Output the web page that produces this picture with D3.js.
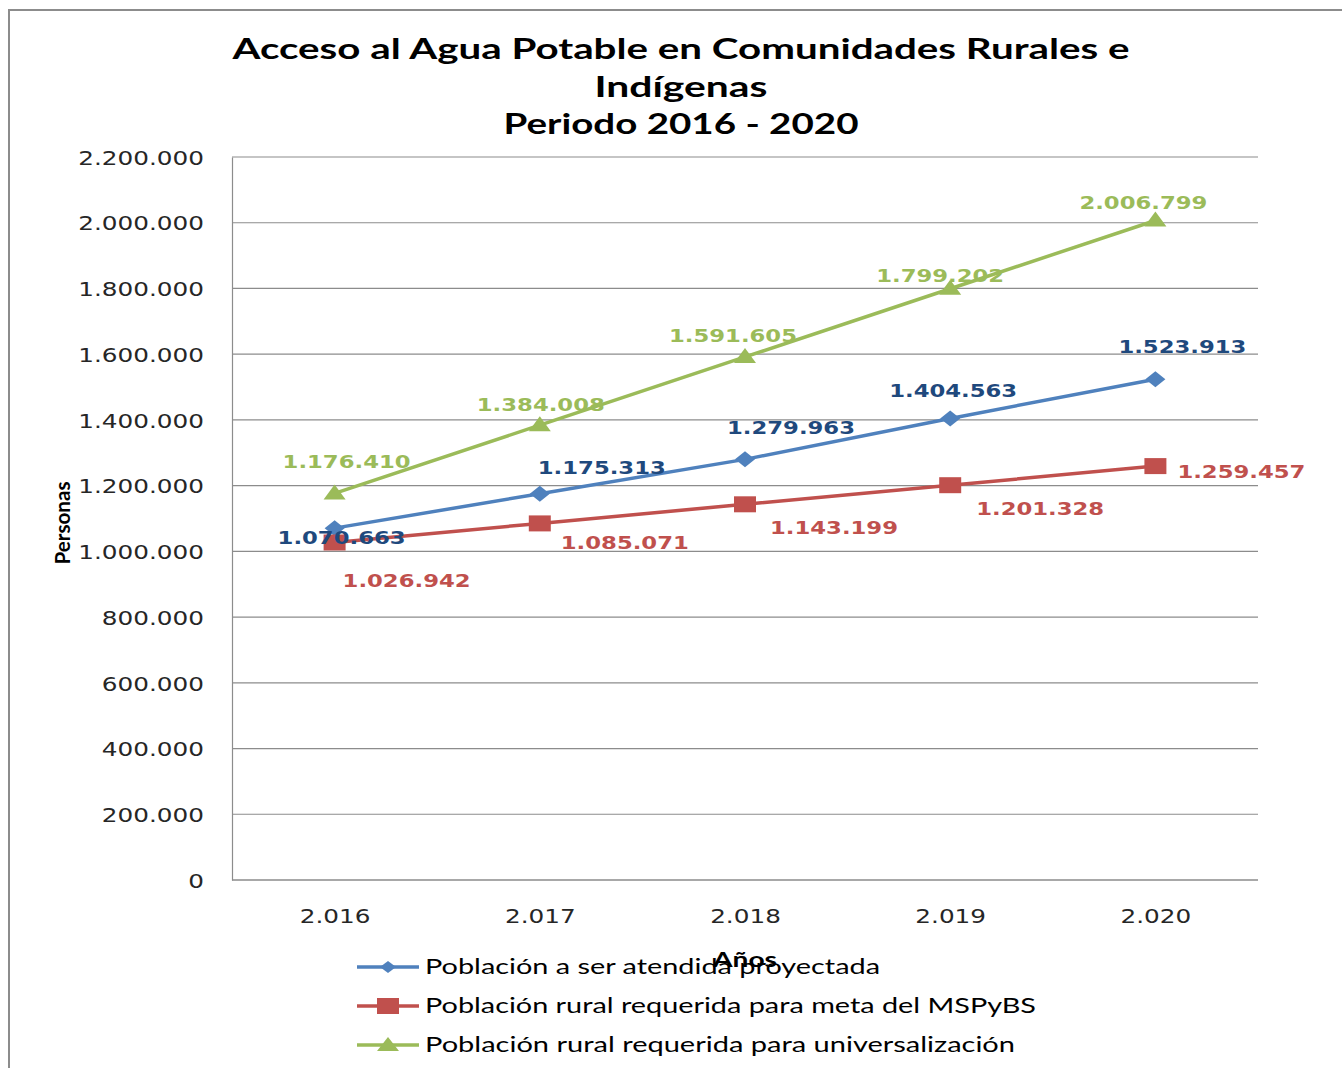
<!DOCTYPE html>
<html>
<head>
<meta charset="utf-8">
<script src="https://cdn.jsdelivr.net/npm/d3@7"></script>
<style>
  body { margin: 0; background: #fff; }
  svg { display: block; }
</style>
</head>
<body>
<div class="chart"></div>
<script>
// data
var years = ["2.016", "2.017", "2.018", "2.019", "2.020"];
var atendida = [1070663, 1175313, 1279963, 1404563, 1523913];
var metaMSPyBS = [1026942, 1085071, 1143199, 1201328, 1259457];
var universal = [1176410, 1384008, 1591605, 1799202, 2006799];
var yTicks = [0, 200000, 400000, 600000, 800000, 1000000, 1200000, 1400000, 1600000, 1800000, 2000000, 2200000];
var seriesNames = ["Población a ser atendida proyectada",
  "Población rural requerida para meta del MSPyBS",
  "Población rural requerida para universalización"];

// label placement (offsets from the point, px)
var labelOffsets = [
  [[7, 9], [62, -27], [46, -32], [3, -28], [27, -33]],
  [[72, 37], [85, 19], [89, 23], [90, 23], [86, 5]],
  [[12, -32], [1, -21], [-12, -22], [-10, -14], [-12, -18]]
];

var svgWidth = 1342, svgHeight = 1068;
var margin = {top: 157, right: 84, bottom: 188, left: 232};
var width = svgWidth - margin.left - margin.right;
var height = svgHeight - margin.top - margin.bottom;

var svg = d3.select(".chart").append("svg")
  .attr("width", svgWidth)
  .attr("height", svgHeight);

// outer frame
svg.append("path")
  .attr("d", "M9,1068 V10 H1342")
  .attr("fill", "none")
  .attr("stroke", "#8c8c8c")
  .attr("stroke-width", 2);

// stretch text horizontally (the original is wide)
function stretch(sel, k) {
  sel.each(function() {
    var len = this.getComputedTextLength();
    d3.select(this).attr("textLength", len * k).attr("lengthAdjust", "spacingAndGlyphs");
  });
}

// title
var titleLines = [["Acceso al Agua Potable en Comunidades Rurales e", 59, 897],
  ["Indígenas", 97, 173], ["Periodo 2016 - 2020", 134, 355]];
svg.selectAll(".title").data(titleLines).enter()
  .append("text")
  .attr("class", "title")
  .attr("x", 681)
  .attr("y", d => d[1])
  .attr("text-anchor", "middle")
  .attr("font-family", "Lato")
  .attr("font-weight", "bold")
  .attr("font-size", 28)
  .attr("fill", "#000")
  .attr("textLength", d => d[2])
  .attr("lengthAdjust", "spacingAndGlyphs")
  .text(d => d[0]);

var chartGroup = svg.append("g")
  .attr("transform", `translate(${margin.left}, ${margin.top})`);

var xScale = d3.scalePoint()
  .domain(years)
  .range([0, width])
  .padding(0.5);

var yScale = d3.scaleLinear()
  .domain([0, 2200000])
  .range([height, 0]);

var fmt = d3.formatLocale({decimal: ",", thousands: ".", grouping: [3], currency: ["", ""]}).format(",d");

// gridlines
chartGroup.selectAll(".grid").data(yTicks).enter()
  .append("line")
  .attr("x1", 0).attr("x2", width)
  .attr("y1", d => yScale(d)).attr("y2", d => yScale(d))
  .attr("stroke", "#8c8c8c")
  .attr("stroke-width", 1.2);

// y axis
var yAxis = chartGroup.append("g")
  .call(d3.axisLeft(yScale).tickValues(yTicks).tickSize(0).tickPadding(28).tickFormat(fmt));
yAxis.select(".domain").attr("stroke", "#8c8c8c").attr("stroke-width", 1.2);
yAxis.selectAll("text")
  .attr("font-family", "DejaVu Sans")
  .attr("font-size", 19)
  .attr("fill", "#262626")
  .attr("dy", "0.38em")
  .call(stretch, 1.3);

// x axis
var xAxis = chartGroup.append("g")
  .attr("transform", `translate(0, ${height})`)
  .call(d3.axisBottom(xScale).tickSize(0).tickPadding(30));
xAxis.select(".domain").attr("stroke", "#8c8c8c").attr("stroke-width", 1.2)
  .attr("d", `M0,0H${width}`);
xAxis.selectAll("text")
  .attr("font-family", "DejaVu Sans")
  .attr("font-size", 19)
  .attr("fill", "#262626")
  .call(stretch, 1.3);

// axis titles
svg.append("text")
  .attr("x", 745).attr("y", 967)
  .attr("text-anchor", "middle")
  .attr("font-family", "Lato").attr("font-weight", "bold")
  .attr("font-size", 21)
  .attr("textLength", 64).attr("lengthAdjust", "spacingAndGlyphs")
  .text("Años");

svg.append("text")
  .attr("transform", "translate(70, 523) rotate(-90)")
  .attr("text-anchor", "middle")
  .attr("font-family", "Lato").attr("font-weight", "bold")
  .attr("font-size", 21)
  .attr("textLength", 83).attr("lengthAdjust", "spacingAndGlyphs")
  .text("Personas");

// markers, drawn wider than tall like the original
var markerPaths = [
  "M-10,0 L0,-8 L10,0 L0,8 Z",
  "M-11,-8 H11 V8 H-11 Z",
  "M0,-9 L11,6 L-11,6 Z"
];
var legendMarkers = [
  "M-8,0 L0,-6 L8,0 L0,6 Z",
  "M-11,-8 H11 V8 H-11 Z",
  "M0,-8 L11,6 L-11,6 Z"
];
var lineColors = ["#4f81bd", "#c0504d", "#9bbb59"];
var labelColors = ["#1f497d", "#c0504d", "#9bbb59"];
var allSeries = [atendida, metaMSPyBS, universal];

var line = d3.line()
  .x((d, i) => xScale(years[i]))
  .y(d => yScale(d));

allSeries.forEach(function(values, s) {
  chartGroup.append("path")
    .attr("d", line(values))
    .attr("fill", "none")
    .attr("stroke", lineColors[s])
    .attr("stroke-width", 3.5);

  chartGroup.selectAll(".m" + s).data(values).enter()
    .append("path")
    .attr("class", "m" + s)
    .attr("d", markerPaths[s])
    .attr("transform", (d, i) => `translate(${xScale(years[i])}, ${yScale(d)})`)
    .attr("fill", lineColors[s]);
});

// data labels on top
allSeries.forEach(function(values, s) {
  chartGroup.selectAll(".l" + s).data(values).enter()
    .append("text")
    .attr("class", "l" + s)
    .attr("x", (d, i) => xScale(years[i]) + labelOffsets[s][i][0])
    .attr("y", (d, i) => yScale(d) + labelOffsets[s][i][1] + 7)
    .attr("text-anchor", "middle")
    .attr("font-family", "DejaVu Sans")
    .attr("font-weight", "bold")
    .attr("font-size", 18)
    .attr("fill", labelColors[s])
    .attr("textLength", 128)
    .attr("lengthAdjust", "spacingAndGlyphs")
    .text(d => fmt(d));
});

// legend
var legend = svg.append("g");
var legendRows = [967, 1006, 1045];
seriesNames.forEach(function(name, s) {
  var g = legend.append("g").attr("transform", `translate(0, ${legendRows[s]})`);
  g.append("line")
    .attr("x1", 357).attr("x2", 419)
    .attr("stroke", lineColors[s]).attr("stroke-width", 3.5);
  g.append("path")
    .attr("d", legendMarkers[s])
    .attr("transform", "translate(388, 0)")
    .attr("fill", lineColors[s]);
  g.append("text")
    .attr("x", 425).attr("y", 7)
    .attr("font-family", "Lato")
    .attr("font-size", 21)
    .attr("fill", "#000")
    .attr("textLength", [455, 611, 590][s])
    .attr("lengthAdjust", "spacingAndGlyphs")
    .text(name);
});
</script>
</body>
</html>
